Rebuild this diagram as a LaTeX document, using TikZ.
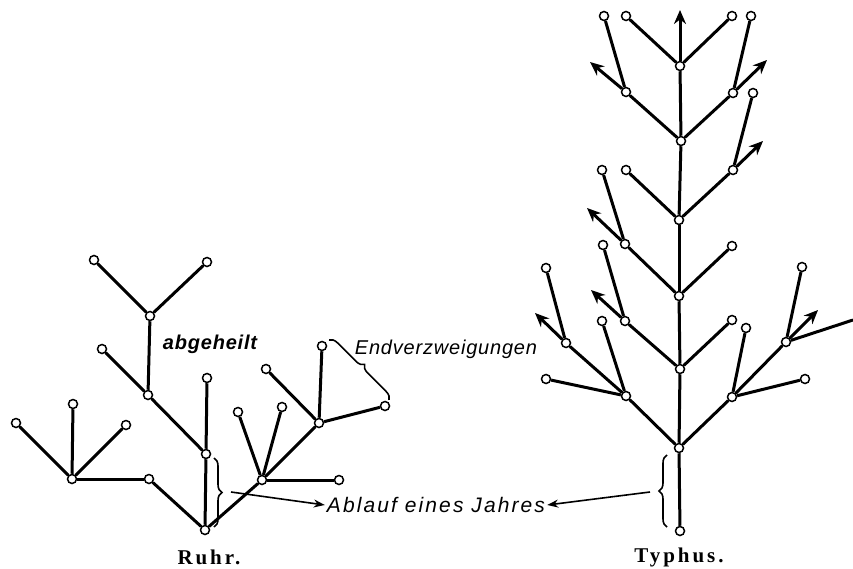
\documentclass[tikz,border=0pt]{standalone}
\usepackage{fontspec}
\usepackage{tikz}
\usetikzlibrary{arrows.meta, decorations.pathreplacing, backgrounds}
\newfontfamily\notefont{Liberation Sans}
\newfontfamily\capfont[LetterSpace=14]{Liberation Serif}

\begin{document}
\begin{tikzpicture}[x=1pt, y=-1pt,
    knot/.style={circle, draw, fill=white, line width=1.5pt, inner sep=0pt, minimum size=9pt},
    branch/.style={line width=3pt},
    shoot/.style={branch, -{Stealth[length=14pt, width=12pt]}},
    pointer/.style={line width=1.6pt, -{Stealth[length=11pt, width=8pt]}},
    yearbrace/.style={decorate, decoration={brace, amplitude=8pt}, line width=1.6pt}]
  \useasboundingbox (0,0) rectangle (853,569);

  % Ruhr: knots
  \foreach \n/\x/\y in {
    r0/205/530, r1/149/479, ra/72/479, ra1/16/423, ra2/73/404, ra3/126/425,
    rb/206/454, rb1/207/378, rc/148/395, rc1/102/349, rd/150/316,
    rd1/94/260, rd2/207/262, re/262/480, re1/238/412, re2/282/407,
    re3/339/480, rf/319/423, rf1/266/369, rf2/322/346, rf3/385/406} {
    \node[knot] (\n) at (\x,\y) {};
  }

  % Typhus: knots
  \foreach \n/\x/\y in {
    t0/680/531, t1/679/448, t2/680/369, t3/679/296, t4/679/220, t5/681/141, t6/680/66,
    t6a/626/16, t6b/732/16,
    t5l/626/92, t5la/604/16, t5r/733/93, t5ra/751/16,
    t4l/626/170, t4r/733/170, t4ra/753/93,
    t3l/625/244, t3la/602/170, t3r/732/246,
    t2l/625/321, t2la/603/245, t2r/732/320,
    t1l/626/396, t1la/546/379, t1lb/602/321, t1ll/566/343, t1lla/546/268,
    t1r/732/397, t1ra/805/379, t1rb/746/328, t1rr/786/342, t1rra/802/267} {
    \node[knot] (\n) at (\x,\y) {};
  }

  % free ends of the growing shoots
  \foreach \n/\x/\y in {
    t6up/680/10, t5lup/590/62, t5rup/767/60, t4rup/763/141,
    t3lup/587/208, t2lup/591/290, t1llup/535/313, t1rrup/818/310, rim/853/320} {
    \coordinate (\n) at (\x,\y);
  }

  \begin{scope}[on background layer]
    \foreach \a/\b in {
      r0/r1, r1/ra, ra/ra1, ra/ra2, ra/ra3, r0/rb, rb/rb1, rb/rc, rc/rc1,
      rc/rd, rd/rd1, rd/rd2, r0/re, re/re1, re/re2, re/re3, re/rf,
      rf/rf1, rf/rf2, rf/rf3} {
      \draw[branch] (\a) -- (\b);
    }
    \foreach \a/\b in {
      t0/t1, t1/t2, t2/t3, t3/t4, t4/t5, t5/t6, t6/t6a, t6/t6b,
      t5/t5l, t5l/t5la, t5/t5r, t5r/t5ra, t4/t4l, t4/t4r, t4r/t4ra,
      t3/t3l, t3l/t3la, t3/t3r, t2/t2l, t2l/t2la, t2/t2r,
      t1/t1l, t1l/t1la, t1l/t1lb, t1l/t1ll, t1ll/t1lla,
      t1/t1r, t1r/t1ra, t1r/t1rb, t1r/t1rr, t1rr/t1rra, t1rr/rim} {
      \draw[branch] (\a) -- (\b);
    }
    \foreach \a/\b in {
      t6/t6up, t5l/t5lup, t5r/t5rup, t4r/t4rup,
      t3l/t3lup, t2l/t2lup, t1ll/t1llup, t1rr/t1rrup} {
      \draw[shoot] (\a) -- (\b);
    }
  \end{scope}

  % labels
  \node[font=\notefont\fontsize{20}{24}\selectfont\bfseries\itshape\addfontfeature{LetterSpace=4}] (heal) at (210,344) {abgeheilt};
  \node[font=\notefont\fontsize{20}{24}\selectfont\itshape\addfontfeature{LetterSpace=4}] (endz) at (446,349) {Endverzweigungen};
  \node[font=\notefont\fontsize{21}{24}\selectfont\itshape\addfontfeature{LetterSpace=10}, inner sep=2pt] (jahr) at (436,505) {Ablauf eines Jahres};
  \node[font=\capfont\fontsize{21}{24}\selectfont\bfseries] (ruhr) at (209,557) {Ruhr.};
  \node[font=\capfont\fontsize{21}{24}\selectfont\bfseries] (typhus) at (679,557) {Typhus.};

  % braces and pointers
  \coordinate (endA) at (329,340);
  \coordinate (endB) at (389,400);
  \draw[yearbrace] (endA) -- (endB);
  \coordinate (rtop) at (214,458);
  \coordinate (rbot) at (214,527);
  \draw[yearbrace] (rtop) -- (rbot);
  \coordinate (ttop) at (667,455);
  \coordinate (tbot) at (667,527);
  \draw[yearbrace] (tbot) -- (ttop);
  \coordinate (rfrom) at (231,492);
  \coordinate (tfrom) at (650,492);
  \draw[pointer] (rfrom) -- (jahr.west);
  \draw[pointer] (tfrom) -- (jahr.east);
\end{tikzpicture}
\end{document}
